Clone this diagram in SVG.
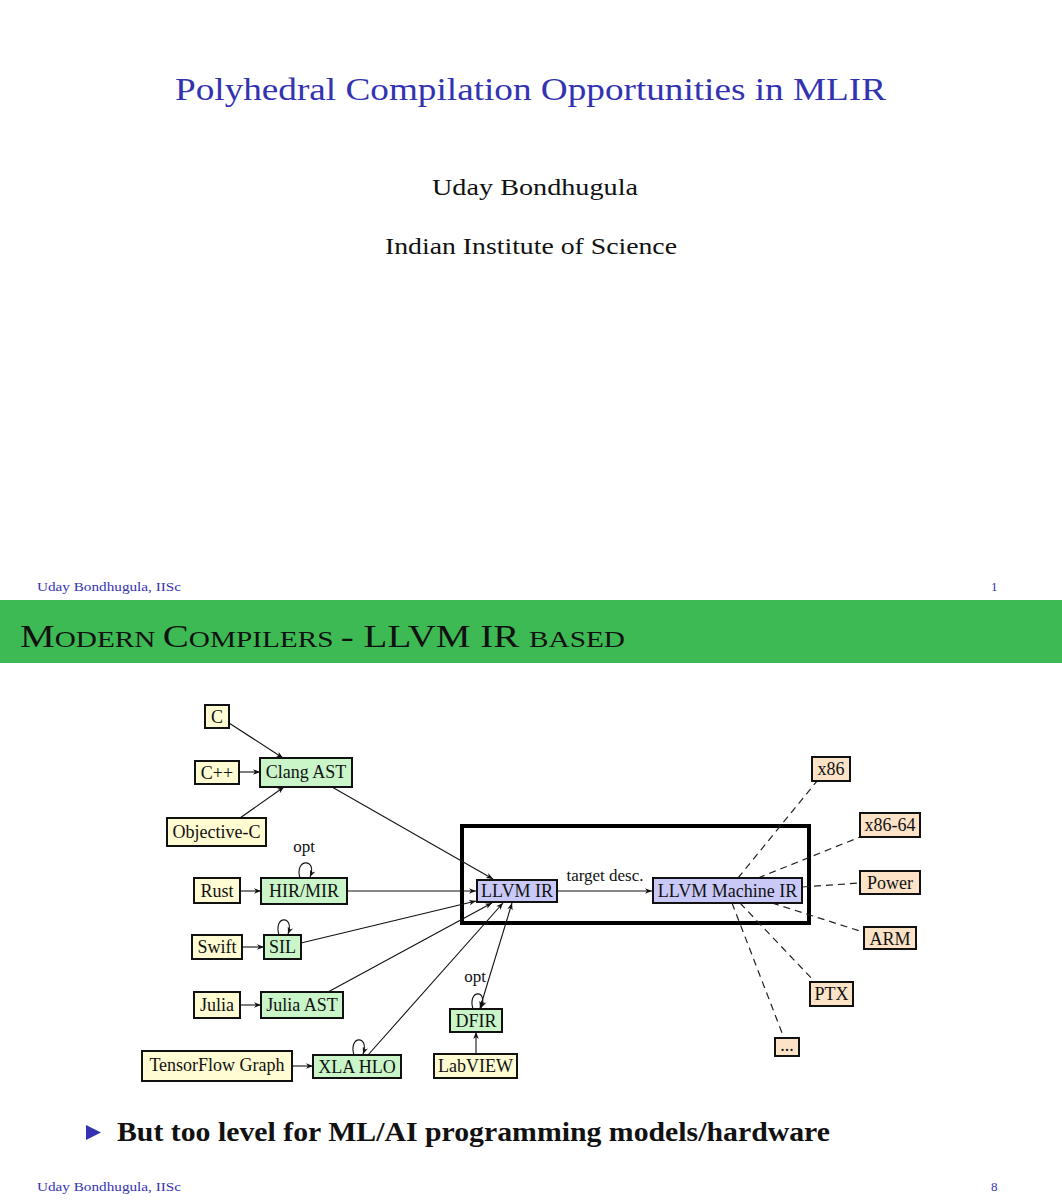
<svg xmlns="http://www.w3.org/2000/svg" width="1062" height="1200" viewBox="0 0 1062 1200">
<defs>
<marker id="ah" viewBox="0 0 10 8" refX="10" refY="4" markerWidth="7" markerHeight="5.6" orient="auto-start-reverse" markerUnits="userSpaceOnUse">
<path d="M0,0 L10,4 L0,8 L3,4 z" fill="#111"/>
</marker>
</defs>
<style>
text{font-family:"Liberation Serif","DejaVu Serif",serif;}
.nl{font-size:18px;fill:#111;text-anchor:middle;}
.box{stroke:#111;stroke-width:2;}
.src{fill:#FFFBD2;}
.ir{fill:#C9F5C9;}
.llvm{fill:#C9C9F7;}
.tgt{fill:#FCE3C8;}
.e{stroke:#111;stroke-width:1.1;fill:none;marker-end:url(#ah);}
.d{stroke:#222;stroke-width:1.2;fill:none;stroke-dasharray:7 5;}
.blue{fill:#3333B2;}
.foot{font-size:13px;fill:#3333B2;}
</style>
<rect x="0" y="0" width="1062" height="1200" fill="#fff"/>

<!-- Slide 1 -->
<g id="slide1">
<text x="175" y="100" font-size="32" class="blue" textLength="711" lengthAdjust="spacingAndGlyphs">Polyhedral Compilation Opportunities in MLIR</text>
<text x="432" y="195" font-size="24" fill="#111" textLength="206" lengthAdjust="spacingAndGlyphs">Uday Bondhugula</text>
<text x="385" y="254" font-size="24" fill="#111" textLength="292" lengthAdjust="spacingAndGlyphs">Indian Institute of Science</text>
<text x="37" y="591" class="foot" textLength="144" lengthAdjust="spacingAndGlyphs">Uday Bondhugula, IISc</text>
<text x="991" y="591" class="foot">1</text>
</g>

<!-- Slide 2 header -->
<g id="header">
<rect x="0" y="600" width="1062" height="63" fill="#3DBA53"/>
<text x="20" y="647" fill="#111" textLength="605" lengthAdjust="spacingAndGlyphs"><tspan font-size="32">M</tspan><tspan font-size="24">ODERN </tspan><tspan font-size="32">C</tspan><tspan font-size="24">OMPILERS </tspan><tspan font-size="32">- LLVM IR </tspan><tspan font-size="24">BASED</tspan></text>
</g>

<!-- Big container -->
<rect id="llvm-container" x="462" y="826" width="347" height="97" fill="none" stroke="#000" stroke-width="4"/>

<!-- Connectors -->
<g id="connectors">
<line class="e" x1="229" y1="723" x2="283" y2="758"/>
<line class="e" x1="239" y1="772" x2="260" y2="772"/>
<line class="e" x1="240" y1="818" x2="284" y2="787"/>
<line class="e" x1="240" y1="891" x2="261" y2="891"/>
<line class="e" x1="242" y1="947" x2="264" y2="947"/>
<line class="e" x1="240" y1="1005" x2="261" y2="1005"/>
<line class="e" x1="292" y1="1066" x2="313" y2="1066"/>
<line class="e" x1="476" y1="1054" x2="476" y2="1032"/>
<line class="e" x1="332" y1="787" x2="493" y2="879"/>
<line class="e" x1="347" y1="891" x2="476" y2="891"/>
<line class="e" x1="301" y1="943" x2="476" y2="901"/>
<line class="e" x1="328" y1="992" x2="492" y2="903"/>
<line class="e" x1="368" y1="1055" x2="503" y2="903"/>
<line class="e" x1="480" y1="1008" x2="512" y2="903" style="marker-start:url(#ah)"/>
<line class="e" x1="557" y1="891" x2="652" y2="891"/>
<text x="605" y="881" font-size="17" fill="#111" text-anchor="middle">target desc.</text>
<!-- self loops -->
<path class="e" d="M300,878 C294,858 318,858 310,877"/>
<text x="304" y="852" font-size="17" fill="#111" text-anchor="middle">opt</text>
<path class="e" d="M279,935 C273,915 295,915 288,934"/>
<path class="e" d="M354,1055 C348,1035 370,1035 363,1054"/>
<path class="e" d="M473,1009 C467,989 489,989 481,1008"/>
<text x="475" y="982" font-size="17" fill="#111" text-anchor="middle">opt</text>
<!-- dashed target lines -->
<line class="d" x1="738" y1="878" x2="817" y2="781"/>
<line class="d" x1="758" y1="878" x2="860" y2="837"/>
<line class="d" x1="802" y1="887" x2="860" y2="883"/>
<line class="d" x1="772" y1="903" x2="860" y2="931"/>
<line class="d" x1="740" y1="903" x2="815" y2="982"/>
<line class="d" x1="732" y1="903" x2="784" y2="1038"/>
</g>

<!-- Nodes -->
<g id="n-c"><rect class="box src" x="205" y="705" width="24" height="23"/><text class="nl" x="217" y="723">C</text></g>
<g id="n-cpp"><rect class="box src" x="195" y="761" width="44" height="23"/><text class="nl" x="217" y="779">C++</text></g>
<g id="n-objc"><rect class="box src" x="167" y="818" width="99" height="28"/><text class="nl" x="216.500" y="838">Objective-C</text></g>
<g id="n-clang"><rect class="box ir" x="260" y="758" width="92" height="29"/><text class="nl" x="306" y="778">Clang AST</text></g>
<g id="n-rust"><rect class="box src" x="194" y="878" width="46" height="25"/><text class="nl" x="217" y="897">Rust</text></g>
<g id="n-hir"><rect class="box ir" x="261" y="878" width="86" height="26"/><text class="nl" x="304" y="897">HIR/MIR</text></g>
<g id="n-swift"><rect class="box src" x="192" y="935" width="50" height="24"/><text class="nl" x="217" y="953">Swift</text></g>
<g id="n-sil"><rect class="box ir" x="264" y="935" width="37" height="24"/><text class="nl" x="282.500" y="953">SIL</text></g>
<g id="n-julia"><rect class="box src" x="194" y="992" width="46" height="26"/><text class="nl" x="217" y="1011">Julia</text></g>
<g id="n-juliaast"><rect class="box ir" x="261" y="992" width="82" height="26"/><text class="nl" x="302" y="1011">Julia AST</text></g>
<g id="n-tf"><rect class="box src" x="142" y="1051" width="150" height="30"/><text class="nl" x="217" y="1071">TensorFlow Graph</text></g>
<g id="n-xla"><rect class="box ir" x="313" y="1055" width="88" height="23"/><text class="nl" x="357" y="1073">XLA HLO</text></g>
<g id="n-labview"><rect class="box src" x="434" y="1054" width="83" height="24"/><text class="nl" x="475.500" y="1072">LabVIEW</text></g>
<g id="n-dfir"><rect class="box ir" x="450" y="1009" width="52" height="23"/><text class="nl" x="476" y="1027">DFIR</text></g>
<g id="n-llvmir"><rect class="box llvm" x="477" y="880" width="80" height="22"/><text class="nl" x="517" y="897">LLVM IR</text></g>
<g id="n-mir"><rect class="box llvm" x="653" y="878" width="149" height="25"/><text class="nl" x="727.500" y="897">LLVM Machine IR</text></g>
<g id="n-x86"><rect class="box tgt" x="812" y="757" width="38" height="24"/><text class="nl" x="831" y="775">x86</text></g>
<g id="n-x8664"><rect class="box tgt" x="860" y="813" width="60" height="24"/><text class="nl" x="890" y="831">x86-64</text></g>
<g id="n-power"><rect class="box tgt" x="860" y="871" width="60" height="23"/><text class="nl" x="890" y="889">Power</text></g>
<g id="n-arm"><rect class="box tgt" x="864" y="927" width="52" height="22"/><text class="nl" x="890" y="945">ARM</text></g>
<g id="n-ptx"><rect class="box tgt" x="810" y="982" width="43" height="24"/><text class="nl" x="831.500" y="1000">PTX</text></g>
<g id="n-etc"><rect class="box tgt" x="775" y="1038" width="24" height="18"/><text class="nl" x="787" y="1051" font-size="13">...</text></g>

<!-- Bullet -->
<g id="bullet">
<polygon points="86,1125 101,1132.500 86,1140" class="blue"/>
<text x="117" y="1141" font-size="27" font-weight="bold" fill="#111" textLength="713" lengthAdjust="spacingAndGlyphs">But too level for ML/AI programming models/hardware</text>
</g>

<g id="footer2">
<text x="37" y="1191" class="foot" textLength="144" lengthAdjust="spacingAndGlyphs">Uday Bondhugula, IISc</text>
<text x="991" y="1191" class="foot">8</text>
</g>
</svg>
